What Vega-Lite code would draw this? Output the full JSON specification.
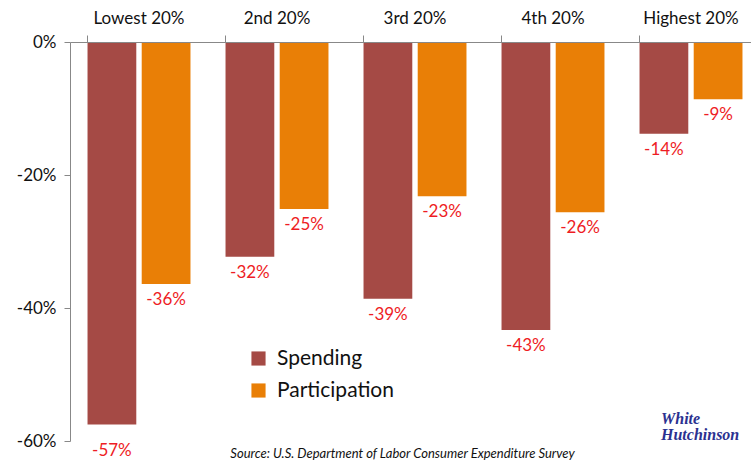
{
  "$schema": "https://vega.github.io/schema/vega-lite/v6.json",
  "width": 681,
  "height": 399,
  "autosize": "none",
  "padding": {"left": 70, "top": 42, "right": 0, "bottom": 21},
  "background": "white",
  "config": {
    "view": {"stroke": null},
    "font": "Lato",
    "axis": {"grid": false, "labelFont": "Lato", "labelColor": "#111"}
  },
  "title": {
    "text": "Source: U.S. Department of Labor Consumer Expenditure Survey",
    "orient": "bottom",
    "anchor": "middle",
    "dx": -8,
    "dy": -11,
    "offset": 0,
    "fontSize": 13,
    "fontStyle": "italic",
    "fontWeight": "normal",
    "font": "Lato",
    "color": "#111"
  },
  "layer": [
    {
      "data": {
        "values": [
          {"group": "Lowest 20%", "series": "Spending", "value": -57.5, "label": "-57%"},
          {"group": "Lowest 20%", "series": "Participation", "value": -36.4, "label": "-36%"},
          {"group": "2nd 20%", "series": "Spending", "value": -32.3, "label": "-32%"},
          {"group": "2nd 20%", "series": "Participation", "value": -25.1, "label": "-25%"},
          {"group": "3rd 20%", "series": "Spending", "value": -38.6, "label": "-39%"},
          {"group": "3rd 20%", "series": "Participation", "value": -23.2, "label": "-23%"},
          {"group": "4th 20%", "series": "Spending", "value": -43.3, "label": "-43%"},
          {"group": "4th 20%", "series": "Participation", "value": -25.6, "label": "-26%"},
          {"group": "Highest 20%", "series": "Spending", "value": -13.8, "label": "-14%"},
          {"group": "Highest 20%", "series": "Participation", "value": -8.6, "label": "-9%"}
        ]
      },
      "encoding": {
        "x": {
          "field": "group",
          "type": "nominal",
          "sort": ["Lowest 20%", "2nd 20%", "3rd 20%", "4th 20%", "Highest 20%"],
          "scale": {"range": [0, 690], "paddingInner": 0.254, "paddingOuter": 0.127},
          "axis": {
            "orient": "top",
            "title": null,
            "labelAngle": 0,
            "bandPosition": 0,
            "labelFontSize": 17,
            "labelPadding": 8,
            "tickSize": 7,
            "tickColor": "#888",
            "domainColor": "#888",
            "zindex": 1
          }
        },
        "xOffset": {
          "field": "series",
          "type": "nominal",
          "sort": ["Spending", "Participation"],
          "scale": {"paddingInner": 0.1}
        },
        "y": {
          "field": "value",
          "type": "quantitative",
          "scale": {"domain": [-60, 0], "nice": false},
          "axis": {
            "title": null,
            "values": [0, -20, -40, -60],
            "labelExpr": "datum.value + '%'",
            "labelFontSize": 17,
            "labelPadding": 8,
            "tickSize": 6,
            "tickColor": "#888",
            "domainColor": "#888"
          }
        }
      },
      "layer": [
        {
          "mark": {"type": "bar"},
          "encoding": {
            "color": {
              "field": "series",
              "type": "nominal",
              "scale": {"domain": ["Spending", "Participation"], "range": ["#a54a45", "#e97f06"]},
              "legend": {
                "title": null,
                "orient": "none",
                "legendX": 178,
                "legendY": 306,
                "symbolType": "square",
                "symbolSize": 200,
                "symbolStrokeWidth": 0,
                "labelFontSize": 21,
                "labelFont": "Lato",
                "labelColor": "#111",
                "rowPadding": 10,
                "labelOffset": 8
              }
            }
          }
        },
        {
          "mark": {"type": "text", "baseline": "top", "dy": {"expr": "datum.value < -50 ? 19 : 8"}, "fontSize": 17, "color": "#ee1c24"},
          "encoding": {"text": {"field": "label"}}
        }
      ]
    },
    {
      "data": {
        "values": [
          {"group": "Highest 20%", "y": -56.7, "t": "White"},
          {"group": "Highest 20%", "y": -59.1, "t": "Hutchinson"}
        ]
      },
      "mark": {"type": "text", "align": "left", "baseline": "middle", "dx": -30, "fontSize": 16, "fontWeight": "bold", "fontStyle": "italic", "font": "Liberation Sans Narrow", "color": "#2b3190"},
      "encoding": {
        "x": {"field": "group", "type": "nominal", "sort": ["Lowest 20%", "2nd 20%", "3rd 20%", "4th 20%", "Highest 20%"]},
        "y": {"field": "y", "type": "quantitative"},
        "text": {"field": "t"}
      }
    }
  ]
}
